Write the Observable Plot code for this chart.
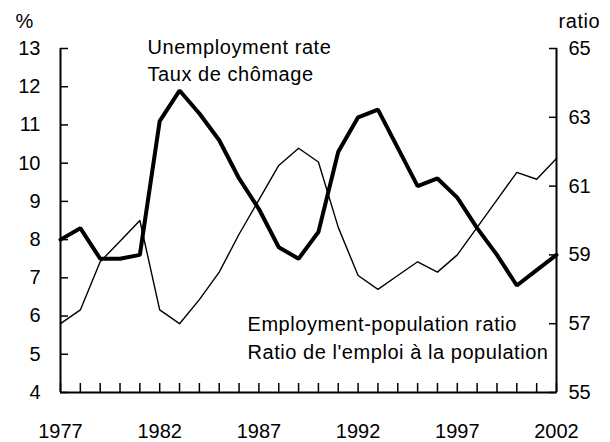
<!DOCTYPE html>
<html>
<head>
<meta charset="utf-8">
<script src="https://cdn.jsdelivr.net/npm/d3@7"></script>
<script src="https://cdn.jsdelivr.net/npm/@observablehq/plot@0.6"></script>
<style>
  html, body { margin: 0; padding: 0; background: #fff; }
  #chart g[aria-label="text"] text { letter-spacing: 0.55px; }
</style>
</head>
<body>
<div id="chart"></div>
<script>
const years = [1977, 1978, 1979, 1980, 1981, 1982, 1983, 1984, 1985, 1986, 1987, 1988, 1989,
               1990, 1991, 1992, 1993, 1994, 1995, 1996, 1997, 1998, 1999, 2000, 2001, 2002];
const unemploymentRate = [8.0, 8.3, 7.5, 7.5, 7.6, 11.1, 11.9, 11.3, 10.6, 9.6, 8.8, 7.8, 7.5,
                          8.2, 10.3, 11.2, 11.4, 10.4, 9.4, 9.6, 9.1, 8.3, 7.6, 6.8, 7.2, 7.6];
const employmentRatio = [57.0, 57.4, 58.8, 59.4, 60.0, 57.4, 57.0, 57.7, 58.5, 59.6, 60.6, 61.6, 62.1,
                         61.7, 59.8, 58.4, 58.0, 58.4, 58.8, 58.5, 59.0, 59.8, 60.6, 61.4, 61.2, 61.8];
const xLabelYears = [1977, 1982, 1987, 1992, 1997, 2002];
const leftTicks = [4, 5, 6, 7, 8, 9, 10, 11, 12, 13];
const rightTicks = [55, 57, 59, 61, 63, 65];
const unemploymentLabel = "Unemployment rate\nTaux de chômage";
const ratioLabel = "Employment-population ratio\nRatio de l'emploi à la population";
const leftUnit = "%";
const rightUnit = "ratio";

// right axis (55–65) mapped onto the left scale (4–13)
const rightToLeft = d3.scaleLinear().domain([55, 65]).range([4, 13]);
const leftToRight = rightToLeft.invert;

const unemp = years.map((y, i) => ({year: y, value: unemploymentRate[i]}));
const ratio = years.map((y, i) => ({year: y, value: rightToLeft(employmentRatio[i])}));

const font = "Liberation Sans, Arial, Helvetica, sans-serif";

const chart = Plot.plot({
  width: 610,
  height: 442,
  marginLeft: 60,
  marginRight: 54,
  marginTop: 48,
  marginBottom: 50,
  style: {fontFamily: font, fontSize: "20px", color: "#000", background: "#fff", overflow: "visible"},
  x: {domain: [1977, 2002]},
  y: {domain: [4, 13]},
  marks: [
    // axes ticks (inward)
    Plot.axisX(years, {anchor: "bottom", tickSize: -9, strokeWidth: 1.5, tickFormat: () => "", label: null}),
    Plot.axisX(xLabelYears, {anchor: "bottom", tickSize: 0, tickPadding: 31, tickFormat: d => String(d), label: null, fontSize: 20}),
    Plot.axisY(leftTicks, {anchor: "left", tickSize: -8, tickPadding: 28, strokeWidth: 1.5, tickFormat: d => String(d), label: null, fontSize: 20}),
    Plot.axisY(rightTicks.map(rightToLeft), {anchor: "right", tickSize: -8, tickPadding: 20, strokeWidth: 1.5,
      tickFormat: d => String(Math.round(leftToRight(d))), label: null, fontSize: 20}),
    // axis lines
    Plot.ruleX([1977, 2002], {strokeWidth: 2}),
    Plot.ruleY([4], {strokeWidth: 2}),
    // series
    Plot.line(ratio, {x: "year", y: "value", stroke: "#000", strokeWidth: 1.4}),
    Plot.line(unemp, {x: "year", y: "value", stroke: "#000", strokeWidth: 4, strokeLinejoin: "miter"}),
    // labels
    Plot.text([unemploymentLabel], {text: d => d, frameAnchor: "top-left", textAnchor: "start", lineAnchor: "top",
      dx: 87, dy: -14, lineHeight: 1.35, fontSize: 20, fill: "#000"}),
    Plot.text([ratioLabel], {text: d => d, frameAnchor: "top-left", textAnchor: "start", lineAnchor: "top",
      dx: 187, dy: 263, lineHeight: 1.4, fontSize: 20, fill: "#000"}),
    Plot.text([leftUnit], {text: d => d, frameAnchor: "top-left", textAnchor: "start", lineAnchor: "bottom",
      dx: -45, dy: -21, fontSize: 20, fill: "#000"}),
    Plot.text([rightUnit], {text: d => d, frameAnchor: "top-right", textAnchor: "start", lineAnchor: "bottom",
      dx: 2, dy: -21, fontSize: 20, fill: "#000"})
  ]
});
document.getElementById("chart").appendChild(chart);
</script>
</body>
</html>
